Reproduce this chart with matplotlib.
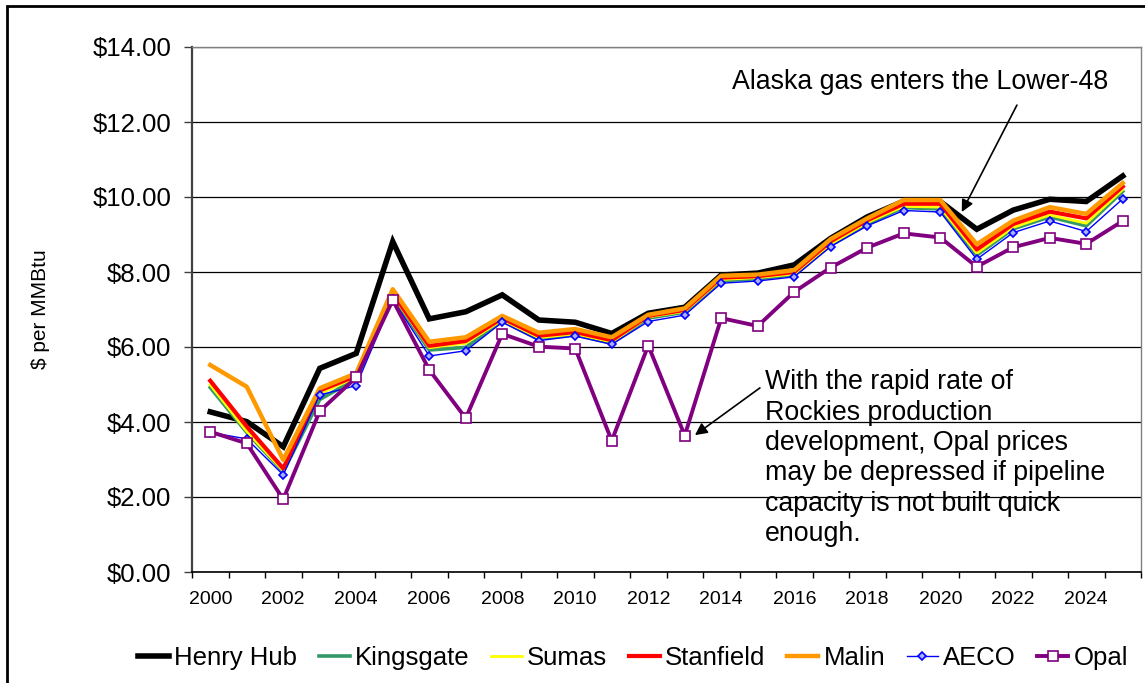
import matplotlib
matplotlib.use("Agg")
import matplotlib.pyplot as plt
from matplotlib.patches import Rectangle
from matplotlib.ticker import FixedLocator, FuncFormatter

# Annual gas price forecasts by trading hub ($/MMBtu)
years = list(range(2000, 2026))
tick_labels = [str(y) for y in range(2000, 2025, 2)]

henry_hub = [4.27, 4.01, 3.34, 5.43, 5.83, 8.81, 6.75, 6.94, 7.39, 6.72, 6.66, 6.36, 6.90,
             7.06, 7.92, 7.97, 8.19, 8.90, 9.47, 9.89, 9.88, 9.14, 9.65, 9.94, 9.88, 10.56]
kingsgate = [4.92, 3.72, 2.68, 4.60, 5.15, 7.35, 5.92, 5.99, 6.70, 6.22, 6.33, 6.10, 6.77,
             6.93, 7.77, 7.82, 7.93, 8.72, 9.28, 9.72, 9.68, 8.45, 9.15, 9.47, 9.23, 10.15]
sumas = [4.99, 3.75, 2.70, 4.75, 5.20, 7.38, 5.98, 6.10, 6.72, 6.25, 6.35, 6.13, 6.80,
         6.95, 7.80, 7.85, 7.95, 8.75, 9.32, 9.75, 9.73, 8.50, 9.19, 9.52, 9.30, 10.20]
stanfield = [5.10, 3.88, 2.76, 4.84, 5.23, 7.43, 6.03, 6.16, 6.77, 6.30, 6.40, 6.18, 6.83,
             6.99, 7.85, 7.89, 8.00, 8.82, 9.38, 9.82, 9.82, 8.60, 9.28, 9.61, 9.43, 10.28]
malin = [5.52, 4.94, 2.99, 4.90, 5.30, 7.54, 6.14, 6.26, 6.83, 6.38, 6.48, 6.26, 6.86,
         7.03, 7.90, 7.93, 8.05, 8.88, 9.43, 9.92, 9.92, 8.74, 9.37, 9.73, 9.55, 10.37]
aeco = [3.72, 3.55, 2.59, 4.72, 4.97, 7.27, 5.76, 5.90, 6.66, 6.17, 6.29, 6.07, 6.68,
        6.85, 7.70, 7.76, 7.87, 8.68, 9.23, 9.64, 9.60, 8.34, 9.05, 9.36, 9.08, 9.95]
opal = [3.74, 3.43, 1.94, 4.29, 5.19, 7.25, 5.39, 4.10, 6.35, 6.01, 5.96, 3.50, 6.04,
        3.64, 6.77, 6.56, 7.47, 8.12, 8.65, 9.03, 8.92, 8.14, 8.66, 8.91, 8.75, 9.36]

plt.rcParams["font.family"] = ["Liberation Sans", "DejaVu Sans"]

W, H = 1145, 683
fig = plt.figure(figsize=(W / 100, H / 100), dpi=100)
ax = fig.add_axes([192 / W, 1 - 572 / H, (1141 - 192) / W, (572 - 47) / H])

x = list(range(len(years)))

ax.plot(x, henry_hub, color="black", lw=4.0, label="Henry Hub", solid_joinstyle="miter")
ax.plot(x, kingsgate, color="#339966", lw=2.6, label="Kingsgate")
ax.plot(x, sumas, color="#FFFF00", lw=2.0, label="Sumas")
ax.plot(x, stanfield, color="#FF0000", lw=3.0, label="Stanfield")
ax.plot(x, malin, color="#FF9900", lw=3.2, label="Malin")
ax.plot(x, aeco, color="#0000FF", lw=1.0, marker="D", markersize=4.5,
        mfc="#aab0ff", mec="#0000FF", mew=1.2, label="AECO")
ax.plot(x, opal, color="#800080", lw=2.8, marker="s", markersize=6.5,
        mfc="white", mec="#800080", mew=1.2, label="Opal")

ax.set_xlim(-0.5, len(years) - 0.5)
ax.set_ylim(0, 14)

# y axis: dollar labels with horizontal gridlines
ax.set_yticks([0, 2, 4, 6, 8, 10, 12, 14])
ax.yaxis.set_major_formatter(FuncFormatter(lambda v, _: f"${v:.2f}"))
ax.tick_params(axis="y", direction="out", length=6, width=1, color="#404040",
               labelsize=18.5, pad=9)
ax.grid(axis="y", color="black", lw=0.9)
ax.set_axisbelow(True)

# x axis: category ticks at boundaries, labels every other year
ax.xaxis.set_major_locator(FixedLocator(x[::2]))
ax.set_xticklabels(tick_labels)
ax.xaxis.set_minor_locator(FixedLocator([i - 0.5 for i in range(len(years) + 1)]))
ax.tick_params(axis="x", which="major", length=0, labelsize=14, pad=14)
ax.tick_params(axis="x", which="minor", direction="out", length=4, width=1, color="black")

ax.spines["left"].set_color("#404040")
ax.spines["left"].set_linewidth(1.6)
ax.spines["bottom"].set_color("black")
ax.spines["bottom"].set_linewidth(1.2)
for s in ("top", "right"):
    ax.spines[s].set_color("#808080")
    ax.spines[s].set_linewidth(1.0)

ax.set_ylabel("$ per MMBtu", fontsize=15)
ax.yaxis.set_label_coords(-0.150, 0.5)

# Call-out notes
ax.text(14.29, 12.88, "Alaska gas enters the Lower-48", fontsize=19.3,
        ha="left", va="baseline")
ax.annotate("", xy=(20.59, 9.60), xytext=(22.10, 12.45),
            arrowprops=dict(arrowstyle="-|>", color="black", lw=1.2,
                            mutation_scale=18, shrinkA=0, shrinkB=0))

ax.text(15.20, 5.41,
        "With the rapid rate of\nRockies production\ndevelopment, Opal prices\n"
        "may be depressed if pipeline\ncapacity is not built quick\nenough.",
        fontsize=19.3, ha="left", va="top", linespacing=1.22)
ax.annotate("", xy=(13.28, 3.65), xytext=(15.06, 4.91),
            arrowprops=dict(arrowstyle="-|>", color="black", lw=1.2,
                            mutation_scale=18, shrinkA=0, shrinkB=0))

fig.legend(loc="center", bbox_to_anchor=(633 / W, 1 - 658 / H), ncol=7,
           frameon=False, fontsize=18.5, handlelength=1.2, handletextpad=0.2,
           columnspacing=0.85, borderaxespad=0)

# Outer frame of the chart
fig.patches.append(Rectangle((7 / W, -0.1), 1.2, (1 - 6 / H) + 0.1, transform=fig.transFigure,
                             fill=False, edgecolor="black", lw=2.0))

fig.savefig("out.png", dpi=100)
